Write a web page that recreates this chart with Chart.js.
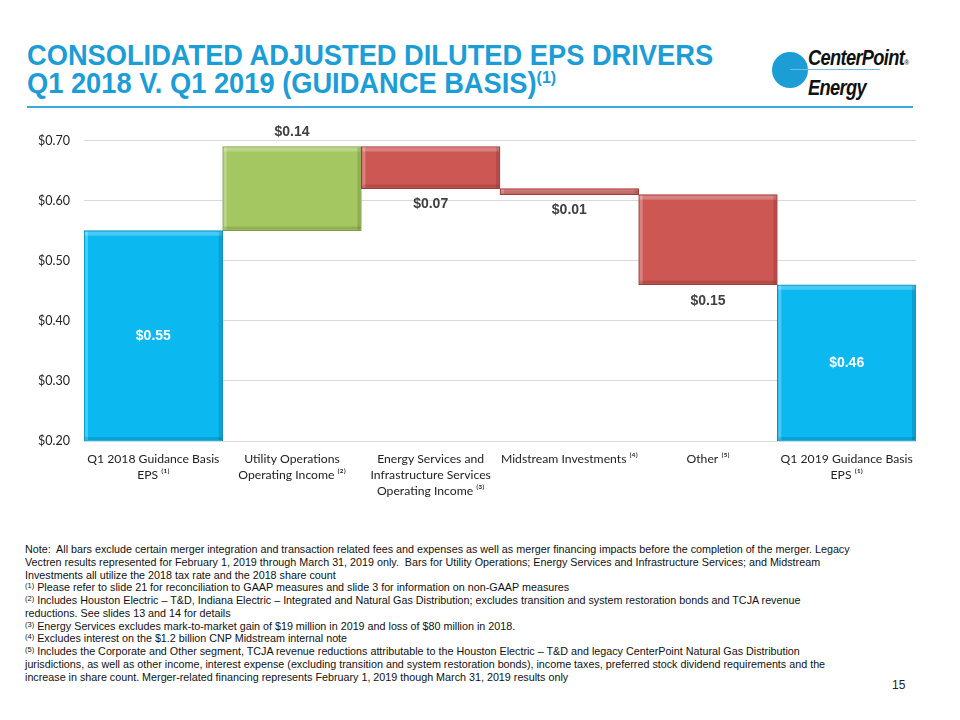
<!DOCTYPE html>
<html>
<head>
<meta charset="utf-8">
<script src="https://cdn.jsdelivr.net/npm/chart.js@4.4.1/dist/chart.umd.min.js"></script>
<style>
  html, body { margin: 0; padding: 0; background: #fff; }
  body { width: 960px; height: 720px; position: relative; overflow: hidden; font-family: "Liberation Sans", Arial, sans-serif; }
  .title { position: absolute; left: 27px; top: 41px; color: #1c9dd6; font-family: "Liberation Sans", Arial, sans-serif; font-weight: bold; font-size: 29px; line-height: 28px; white-space: nowrap; transform: scaleX(0.94); transform-origin: left top; }
  .title sup { font-size: 17px; vertical-align: 10px; line-height: 0; }
  .rule { position: absolute; left: 27px; top: 106px; width: 886px; height: 2px; background: #3aa8da; }
  .logo-dot { position: absolute; left: 772px; top: 52px; width: 36px; height: 36px; border-radius: 50%; background: #1c9dd6; }
  .logo-line { position: absolute; left: 790px; top: 69px; width: 90px; height: 1px; background: #6fbfe6; }
  .logo-text { position: absolute; left: 808px; top: 45px; font-family: "Liberation Sans", Arial, sans-serif; font-weight: bold; font-style: italic; font-size: 22px; line-height: 25px; color: #111; letter-spacing: -0.8px; transform: scaleX(0.83); transform-origin: left top; white-space: nowrap; }
  .logo-text small { font-size: 8px; font-style: normal; color: #444; }
  #wrap { position: absolute; left: 20px; top: 119px; width: 910px; height: 396px; }
  .notes { position: absolute; left: 25px; top: 543px; font-family: "Liberation Sans", Arial, sans-serif; font-size: 10.75px; line-height: 12.75px; color: #111; white-space: nowrap; }
  .notes sup { font-size: 7.5px; vertical-align: 3px; line-height: 0; }
  .page { position: absolute; left: 892px; top: 678px; font-size: 12px; color: #222; font-family: "Liberation Sans", Arial, sans-serif; }
</style>
</head>
<body>
<div class="title">CONSOLIDATED ADJUSTED DILUTED EPS DRIVERS<br>Q1 2018 V. Q1 2019 (GUIDANCE BASIS)<sup>(1)</sup></div>
<div class="logo-dot"></div>
<div class="logo-line"></div>
<div class="logo-text">CenterPoint<small>®</small><br>Energy</div>
<div class="rule"></div>
<div id="wrap"><canvas id="eps"></canvas></div>
<div class="notes">
Note:&nbsp; All bars exclude certain merger integration and transaction related fees and expenses as well as merger financing impacts before the completion of the merger. Legacy<br>
Vectren results represented for February 1, 2019 through March 31, 2019 only.&nbsp; Bars for Utility Operations; Energy Services and Infrastructure Services; and Midstream<br>
Investments all utilize the 2018 tax rate and the 2018 share count<br>
<sup>(1)</sup> Please refer to slide 21 for reconciliation to GAAP measures and slide 3 for information on non-GAAP measures<br>
<sup>(2)</sup> Includes Houston Electric – T&amp;D, Indiana Electric – Integrated and Natural Gas Distribution; excludes transition and system restoration bonds and TCJA revenue<br>
reductions. See slides 13 and 14 for details<br>
<sup>(3)</sup> Energy Services excludes mark-to-market gain of $19 million in 2019 and loss of $80 million in 2018.<br>
<sup>(4)</sup> Excludes interest on the $1.2 billion CNP Midstream internal note<br>
<sup>(5)</sup> Includes the Corporate and Other segment, TCJA revenue reductions attributable to the Houston Electric – T&amp;D and legacy CenterPoint Natural Gas Distribution<br>
jurisdictions, as well as other income, interest expense (excluding transition and system restoration bonds), income taxes, preferred stock dividend requirements and the<br>
increase in share count. Merger-related financing represents February 1, 2019 though March 31, 2019 results only
</div>
<div class="page">15</div>

<script>
// waterfall steps: first and last are totals, the rest are changes
const categories = [
    ['Q1 2018 Guidance Basis', 'EPS ⁽¹⁾'],
    ['Utility Operations', 'Operating Income ⁽²⁾'],
    ['Energy Services and', 'Infrastructure Services', 'Operating Income ⁽³⁾'],
    ['Midstream Investments ⁽⁴⁾'],
    ['Other ⁽⁵⁾'],
    ['Q1 2019 Guidance Basis', 'EPS ⁽¹⁾']
];
const stepValues = [0.55, 0.14, -0.07, -0.01, -0.15, 0.46];
const isTotal = [true, false, false, false, false, true];
const yTicks = [0.20, 0.30, 0.40, 0.50, 0.60, 0.70];

const BLUE = '#0bb8f0', GREEN = '#a4c762', RED = '#cc5753';

// build floating [low, high] ranges from the steps
let running = 0;
const ranges = stepValues.map((v, i) => {
    if (isTotal[i]) { running = v; return [0, v]; }
    const from = running; running += v;
    return [Math.min(from, running), Math.max(from, running)];
});
const barColors = stepValues.map((v, i) => isTotal[i] ? BLUE : (v >= 0 ? GREEN : RED));
const borderColors = stepValues.map((v, i) => isTotal[i] ? '#0a8fbd' : (v >= 0 ? '#7f9e46' : '#9e3d3a'));

const valueLabels = {
    id: 'valueLabels',
    afterDatasetsDraw(chart) {
        const ctx = chart.ctx;
        const meta = chart.getDatasetMeta(0);
        const y = chart.scales.y;
        ctx.save();
        ctx.font = 'bold 14px "Liberation Sans", Arial, sans-serif';
        ctx.textAlign = 'center';
        ctx.textBaseline = 'middle';
        meta.data.forEach((bar, i) => {
            const txt = '$' + Math.abs(stepValues[i]).toFixed(2);
            const [lo, hi] = ranges[i];
            let py;
            if (isTotal[i]) {
                ctx.fillStyle = '#ffffff';
                py = (y.getPixelForValue(Math.max(lo, y.min)) + y.getPixelForValue(hi)) / 2;
            } else if (stepValues[i] >= 0) {
                ctx.fillStyle = '#404040';
                py = y.getPixelForValue(hi) - 14;
            } else {
                ctx.fillStyle = '#404040';
                py = y.getPixelForValue(lo) + 16;
            }
            ctx.fillText(txt, bar.x, py);
        });
        ctx.restore();
    }
};

// light bevel highlight on the edges of each bar
const bevel = {
    id: 'bevel',
    afterDatasetsDraw(chart) {
        const ctx = chart.ctx;
        const area = chart.chartArea;
        ctx.save();
        ctx.beginPath();
        ctx.rect(area.left, area.top, area.right - area.left, area.bottom - area.top);
        ctx.clip();
        chart.getDatasetMeta(0).data.forEach((bar) => {
            const l = bar.x - bar.width / 2, r = bar.x + bar.width / 2;
            const t = Math.min(bar.y, bar.base), b = Math.min(Math.max(bar.y, bar.base), area.bottom);
            const h = b - t;
            ctx.fillStyle = 'rgba(255,255,255,0.25)';
            ctx.fillRect(l + 1, t + 1, r - l - 2, Math.min(4, h - 2));
            ctx.fillRect(l + 1, t + 1, 3, h - 2);
            ctx.fillStyle = 'rgba(0,0,0,0.12)';
            ctx.fillRect(l + 1, b - 4, r - l - 2, Math.min(3, h - 2));
            ctx.fillRect(r - 4, t + 1, 3, h - 2);
        });
        ctx.restore();
    }
};

new Chart(document.getElementById('eps'), {
    type: 'bar',
    data: {
        labels: categories,
        datasets: [{
            data: ranges,
            backgroundColor: barColors,
            borderColor: borderColors,
            borderWidth: 1,
            borderSkipped: false,
            barPercentage: 1.0,
            categoryPercentage: 1.0
        }]
    },
    options: {
        responsive: true,
        maintainAspectRatio: false,
        animation: false,
        layout: { padding: { top: 15, right: 14, left: 0, bottom: 0 } },
        plugins: { legend: { display: false }, tooltip: { enabled: false } },
        scales: {
            y: {
                min: 0.2, max: 0.7,
                afterFit: (s) => { s.width = 64; },
                afterBuildTicks: (s) => { s.ticks = yTicks.map(v => ({ value: v })); },
                grid: { color: '#d9d9d9', lineWidth: 1, drawTicks: false },
                border: { display: false },
                ticks: {
                    padding: 14,
                    color: '#222',
                    font: { family: 'Lato, "Open Sans", sans-serif', size: 12.5 },
                    callback: (v) => '$' + Number(v).toFixed(2)
                }
            },
            x: {
                afterFit: (s) => { s.height = 74; },
                grid: { display: false },
                border: { display: false },
                ticks: {
                    maxRotation: 0, autoSkip: false, padding: 2,
                    color: '#222',
                    font: { family: 'Lato, "Open Sans", sans-serif', size: 12.2, lineHeight: 1.33 }
                }
            }
        }
    },
    plugins: [bevel, valueLabels]
});
</script>
</body>
</html>
